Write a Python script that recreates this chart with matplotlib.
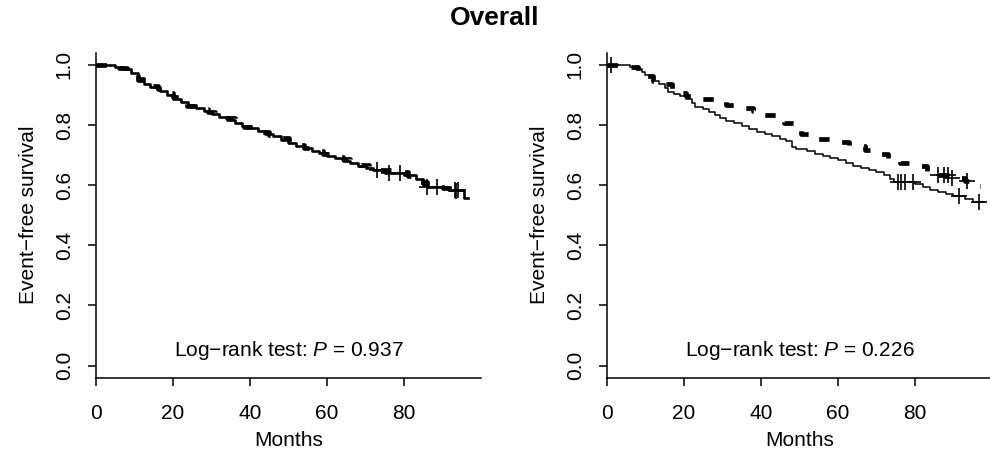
import numpy as np
import matplotlib
matplotlib.use("Agg")
import matplotlib.pyplot as plt

# ---- data (Kaplan-Meier step points) ----
# left panel
left_solid_t = [0, 5, 7, 9, 11, 12.5, 14, 16.5, 18.5, 20, 22, 24, 26, 28, 30, 32, 34, 36,
                38, 40, 42, 44, 46, 48, 50, 52, 54, 56, 58, 60, 62, 64, 66, 68, 70, 72,
                75, 80, 83, 85, 86, 92, 95.5, 96.5]
left_solid_s = [1.0, 0.993, 0.985, 0.972, 0.955, 0.935, 0.925, 0.912, 0.900, 0.888, 0.877,
                0.866, 0.855, 0.846, 0.835, 0.826, 0.817, 0.808, 0.798, 0.789, 0.779, 0.770,
                0.762, 0.750, 0.740, 0.731, 0.722, 0.715, 0.707, 0.698, 0.690, 0.681, 0.672,
                0.664, 0.657, 0.649, 0.642, 0.634, 0.620, 0.600, 0.593, 0.585, 0.558, 0.558]
left_solid_cens = [73, 76, 79, 86, 88.6, 93.2, 94.1]

left_dash_t = [0, 3, 6, 8, 11, 13, 16, 18.5, 20, 22, 23.5, 27, 29, 31, 34, 36, 38.5, 41, 43,
               45, 47.5, 50, 52, 54, 57, 59, 62, 64, 66, 68.5, 71, 73, 78, 81, 84, 86, 90,
               93, 95]
left_dash_s = [1.0, 0.995, 0.988, 0.975, 0.948, 0.928, 0.918, 0.905, 0.893, 0.875, 0.862,
               0.853, 0.842, 0.832, 0.822, 0.806, 0.794, 0.785, 0.776, 0.768, 0.756, 0.745,
               0.735, 0.722, 0.713, 0.702, 0.694, 0.686, 0.676, 0.668, 0.660, 0.650, 0.645,
               0.632, 0.610, 0.595, 0.590, 0.580, 0.580]
left_dash_cens = [93.6]

# right panel
right_solid_t = [0, 6, 7.5, 9, 10, 11, 12, 13.5, 15, 16, 17.5, 19, 20.5, 22, 23, 25, 26.5,
                 28, 29.5, 31, 33, 35, 37, 39, 41, 43, 45, 46.5, 48, 49, 52, 54, 56, 58, 60,
                 62, 64, 66, 68, 70, 72, 73.5, 74.5, 80, 82, 84, 86, 88, 90, 93, 95, 98]
right_solid_s = [1.0, 0.993, 0.985, 0.975, 0.965, 0.955, 0.945, 0.935, 0.922, 0.910, 0.902,
                 0.895, 0.885, 0.872, 0.860, 0.852, 0.843, 0.833, 0.822, 0.812, 0.805, 0.797,
                 0.785, 0.778, 0.770, 0.763, 0.755, 0.748, 0.728, 0.720, 0.713, 0.705, 0.697,
                 0.690, 0.682, 0.673, 0.665, 0.658, 0.650, 0.643, 0.635, 0.622, 0.612, 0.603,
                 0.595, 0.585, 0.577, 0.570, 0.563, 0.555, 0.545, 0.545]
right_solid_cens = [75.7, 76.5, 77.4, 79.6, 91.4, 96.5]

right_dash_t = [0, 6, 8, 10, 12, 14, 17, 19, 20.5, 24, 28, 31, 34, 38, 40, 44, 46, 49, 50.5,
                53, 60, 63, 67, 69, 73, 76, 79, 83, 86, 89, 93, 95, 97]
right_dash_s = [1.0, 0.993, 0.978, 0.963, 0.945, 0.935, 0.915, 0.905, 0.895, 0.888, 0.880,
                0.868, 0.858, 0.845, 0.832, 0.818, 0.805, 0.790, 0.770, 0.755, 0.745, 0.730,
                0.718, 0.705, 0.690, 0.675, 0.665, 0.648, 0.635, 0.625, 0.613, 0.598, 0.598]
right_dash_cens = [1.2, 86, 87.5, 88.5, 89.5, 93.4]

pvalues = ["0.937", "0.226"]
x_ticks = [0, 20, 40, 60, 80]
y_ticks = [0.0, 0.2, 0.4, 0.6, 0.8, 1.0]

FONT = ['Liberation Sans', 'DejaVu Sans']
FS = 15


def surv_at(times, surv, t):
    idx = np.searchsorted(times, t, side='right') - 1
    return np.asarray(surv)[idx]


def draw_panel(ax, solid, dash, pval, solid_lw):
    st, ss, sc = solid
    dt, ds, dc = dash
    ax.step(st, ss, where='post', color='black', lw=solid_lw)
    ax.step(dt, ds, where='post', color='black', lw=3.4, linestyle=(0, (2.2, 3.3)))
    ax.plot(sc, surv_at(st, ss, sc), '+', color='black', ms=12, mew=1.2)
    ax.plot(dc, surv_at(dt, ds, dc), '+', color='black', ms=12, mew=1.2)

    ax.set_xlim(0, 100)
    ax.set_ylim(-0.04, 1.04)
    ax.set_xticks(x_ticks)
    ax.set_yticks(y_ticks)
    ax.set_yticklabels([f'{v:.1f}' for v in y_ticks], rotation=90, va='center')
    for side in ['top', 'right']:
        ax.spines[side].set_visible(False)
    for side in ['left', 'bottom']:
        ax.spines[side].set_linewidth(1.1)
    ax.tick_params(direction='out', length=6, width=1.1, labelsize=FS)
    ax.tick_params(axis='x', pad=13)
    ax.tick_params(axis='y', pad=10)
    ax.set_xlabel('Months', fontsize=FS, labelpad=6)
    ax.set_ylabel('Event\u2212free survival', fontsize=FS, labelpad=12)
    ax.text(50, 0.05, 'Log\u2212rank test: $P$ = ' + pval, ha='center', va='center',
            fontsize=FS)


plt.rcParams['font.family'] = FONT
plt.rcParams['mathtext.fontset'] = 'custom'
plt.rcParams['mathtext.rm'] = 'Liberation Sans'
plt.rcParams['mathtext.it'] = 'Liberation Sans:italic'

fig = plt.figure(figsize=(9.9, 4.55), dpi=100)
ax1 = fig.add_axes([0.097, 0.170, 0.389, 0.714])
ax2 = fig.add_axes([0.613, 0.170, 0.389, 0.714])

draw_panel(ax1, (left_solid_t, left_solid_s, left_solid_cens),
           (left_dash_t, left_dash_s, left_dash_cens), pvalues[0], 1.9)
draw_panel(ax2, (right_solid_t, right_solid_s, right_solid_cens),
           (right_dash_t, right_dash_s, right_dash_cens), pvalues[1], 1.1)

fig.text(0.5, 0.96, 'Overall', ha='center', va='center', fontsize=19,
         fontweight='bold')

fig.savefig('out.png', dpi=100, facecolor='white')
